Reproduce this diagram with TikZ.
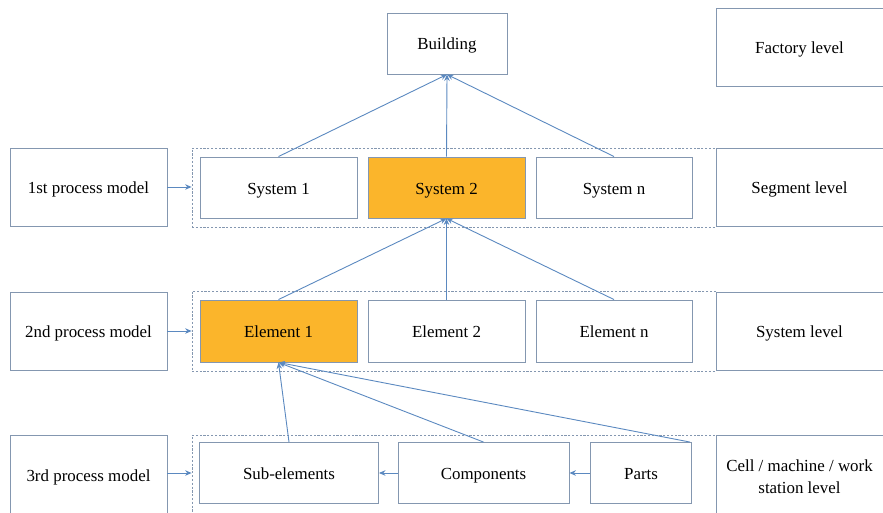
\documentclass[tikz,border=0pt]{standalone}
\usepackage{fontspec}
\setmainfont{Liberation Serif}
\usetikzlibrary{arrows.meta}
\definecolor{boxline}{HTML}{8497B0}
\definecolor{linkline}{HTML}{5B89C0}
\definecolor{hilite}{HTML}{FBB52B}
\tikzset{
  blk/.style={draw=boxline, line width=0.9pt, fill=white, rectangle,
    font=\fontsize{16.9}{22}\selectfont, align=center, inner sep=0pt,
    text height=13pt, text depth=0pt},
  hot/.style={blk, fill=hilite},
  grp/.style={draw=boxline, dash pattern=on 2.2pt off 1.6pt, line width=0.8pt,
    rectangle, inner sep=0pt},
  link/.style={draw=linkline, line width=0.9pt, -{Stealth[length=6.5pt,width=5.5pt]}},
}
\begin{document}
\begin{tikzpicture}[x=1pt,y=-1pt]
\useasboundingbox (0,0) rectangle (883,513);
\clip (0,0) rectangle (883,513);

% level labels on the right
\node[blk, minimum width=167pt, minimum height=78pt] (lv0) at (799.5,47) {Factory level};
\node[blk, minimum width=167pt, minimum height=78pt] (lv1) at (799.5,187) {Segment level};
\node[blk, minimum width=167pt, minimum height=78pt] (lv2) at (799.5,331) {System level};
\node[blk, minimum width=167pt, minimum height=79pt, text height=37pt] (lv3) at (799.5,475)
  {Cell / machine / work\\station level};

% process models on the left
\node[blk, minimum width=157pt, minimum height=78pt] (pm1) at (88.5,187) {1st process model};
\node[blk, minimum width=157pt, minimum height=78pt] (pm2) at (88.5,331) {2nd process model};
\node[blk, minimum width=157pt, minimum height=79pt] (pm3) at (88.5,475) {3rd process model};

% dashed groups
\node[grp, minimum width=524pt, minimum height=79pt] (g1) at (454,187.5) {};
\node[grp, minimum width=524pt, minimum height=80pt] (g2) at (454,331) {};
\node[grp, minimum width=524pt, minimum height=79pt] (g3) at (454,475) {};

% building
\node[blk, minimum width=120pt, minimum height=61pt] (bld) at (447,43.5) {Building};

% systems
\node[blk, minimum width=157pt, minimum height=61pt] (s1) at (278.5,187.5) {System 1};
\node[hot, minimum width=157pt, minimum height=61pt] (s2) at (446.5,187.5) {System 2};
\node[blk, minimum width=156pt, minimum height=61pt] (sn) at (614,187.5) {System n};

% elements
\node[hot, minimum width=157pt, minimum height=62pt] (e1) at (278.5,331) {Element 1};
\node[blk, minimum width=157pt, minimum height=62pt] (e2) at (446.5,331) {Element 2};
\node[blk, minimum width=156pt, minimum height=62pt] (en) at (614,331) {Element n};

% sub-elements, components, parts
\node[blk, minimum width=179pt, minimum height=61pt] (sub) at (289,473) {Sub-elements};
\node[blk, minimum width=171pt, minimum height=61pt] (cmp) at (483.5,473) {Components};
\node[blk, minimum width=101pt, minimum height=61pt] (prt) at (641,473) {Parts};

% process model inputs
\draw[link] (pm1.east) -- (g1.west |- pm1.east);
\draw[link] (pm2.east) -- (g2.west |- pm2.east);
\draw[link] (pm3.east |- sub.west) -- (g3.west |- sub.west);

% aggregation upwards
\draw[link] (s1.north) -- (bld.south);
\draw[link] (s2.north) -- (bld.south);
\draw[link] (sn.north) -- (bld.south);

\draw[link] (e1.north) -- (s2.south);
\draw[link] (e2.north) -- (s2.south);
\draw[link] (en.north) -- (s2.south);

\draw[link] (sub.north) -- (e1.south);
\draw[link] (cmp.north) -- (e1.south);
\draw[link] ([xshift=-2pt]prt.north east) -- (e1.south);

% horizontal chain
\draw[link] (prt.west) -- (cmp.east);
\draw[link] (cmp.west) -- (sub.east);
\end{tikzpicture}
\end{document}
